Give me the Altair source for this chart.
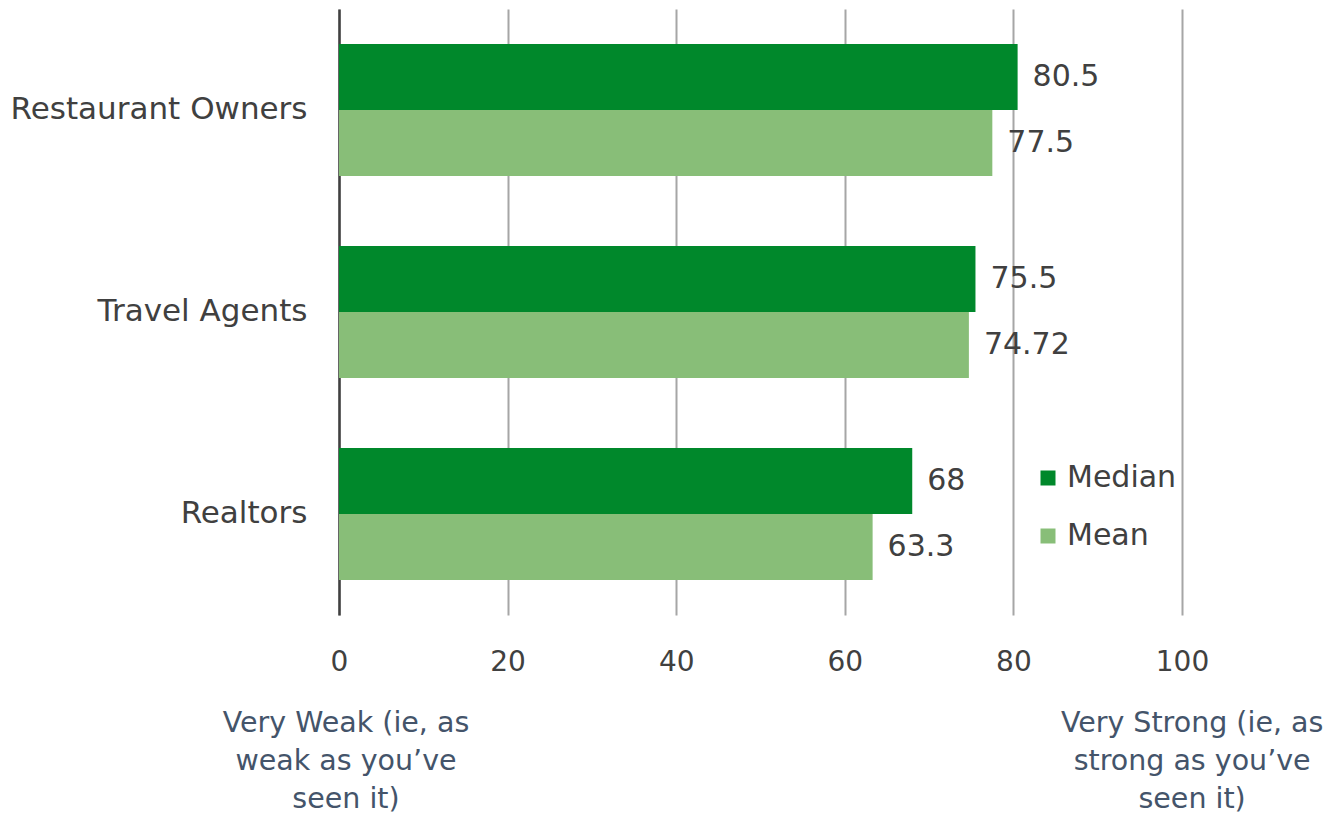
import altair as alt
import pandas as pd

categories = ["Restaurant Owners", "Travel Agents", "Realtors"]
median_vals = [80.5, 75.5, 68]
mean_vals = [77.5, 74.72, 63.3]
series = ["Median", "Mean"]
colors = ["#00882B", "#88BE78"]
tick_values = [0, 20, 40, 60, 80, 100]

ann_x = [0.83, 101.2]
ann_text = ["Very Weak (ie, as\nweak as you\u2019ve\nseen it)",
            "Very Strong (ie, as\nstrong as you\u2019ve\nseen it)"]

FONT = "DejaVu Sans"

rows = []
for c, md, mn in zip(categories, median_vals, mean_vals):
    rows.append({"category": c, "measure": "Median", "value": md, "label": f"{md:g}"})
    rows.append({"category": c, "measure": "Mean", "value": mn, "label": f"{mn:g}"})
df = pd.DataFrame(rows)
ann_df = pd.DataFrame({"x": ann_x, "text": ann_text})

xscale = alt.Scale(domain=[0, 100], nice=False, zero=True)

base = alt.Chart(df).encode(
    y=alt.Y("category:N", sort=categories,
            scale=alt.Scale(paddingInner=0.3465, paddingOuter=0.173),
            axis=alt.Axis(title=None, ticks=False, labelFontSize=31, labelFont=FONT,
                          labelColor="#404040", labelPadding=32, labelLimit=500,
                          domain=True, domainColor="#404040", domainWidth=2.5)),
    yOffset=alt.YOffset("measure:N", sort=series,
                        scale=alt.Scale(domain=series, paddingInner=0, paddingOuter=0)),
)

bars = base.mark_bar().encode(
    x=alt.X("value:Q", scale=xscale,
            axis=alt.Axis(values=tick_values, title=None, grid=True, gridColor="#A6A6A6",
                          gridWidth=2, domain=False, ticks=False, labelFontSize=28,
                          labelFont=FONT, labelColor="#404040", labelPadding=33,
                          labelFlush=False)),
    color=alt.Color("measure:N", sort=series,
                    scale=alt.Scale(domain=series, range=colors),
                    legend=alt.Legend(title=None, orient="none", legendX=694, legendY=454,
                                      symbolType="square", symbolSize=225,
                                      symbolStrokeWidth=0, labelFontSize=30,
                                      labelFont=FONT, labelColor="#404040",
                                      labelOffset=4, rowPadding=28, padding=0)),
)

labels = base.mark_text(align="left", baseline="middle", dx=15, fontSize=30,
                        font=FONT, color="#404040").encode(
    x=alt.X("value:Q", scale=xscale),
    text="label:N",
)

ann = alt.Chart(ann_df).mark_text(align="center", baseline="alphabetic", fontSize=28.5,
                                  font=FONT, color="#44546A", lineBreak="\n",
                                  lineHeight=38).encode(
    x=alt.X("x:Q", scale=xscale),
    y=alt.value(723),
    text="text:N",
)

chart = alt.layer(bars, labels, ann).properties(
    width=843, height=606,
    padding={"left": 339, "top": 9, "right": 147, "bottom": 200},
    autosize=alt.AutoSizeParams(type="none"),
).configure_view(stroke=None)

chart.save("out.html", embed_options={"renderer": "svg", "actions": False})
